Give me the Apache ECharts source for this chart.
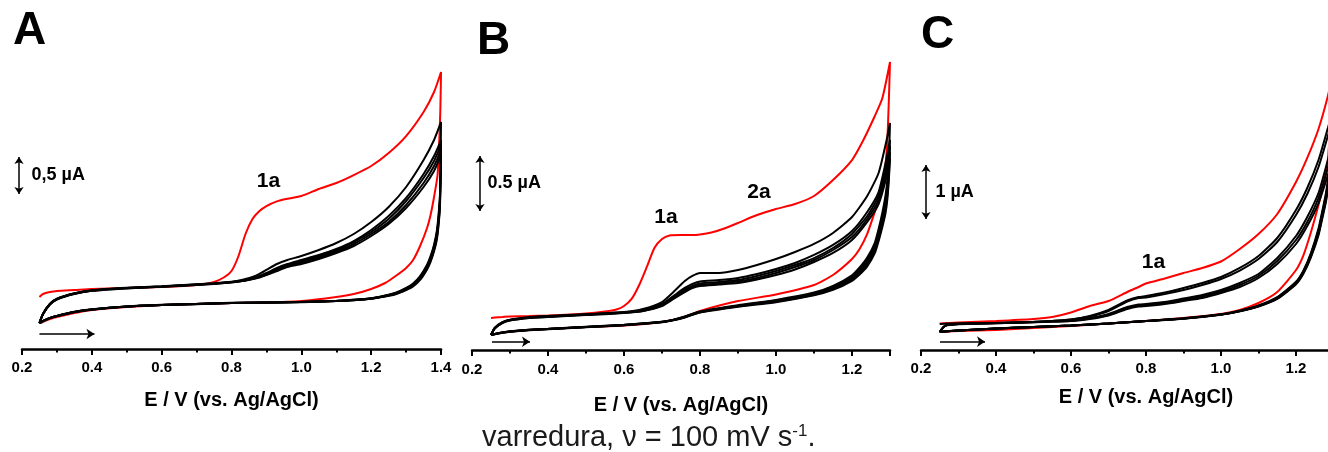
<!DOCTYPE html>
<html>
<head>
<meta charset="utf-8">
<script src="https://cdn.jsdelivr.net/npm/echarts@6/dist/echarts.min.js"></script>
<style>
  html, body { margin: 0; padding: 0; background: #fff; }
  #chart { width: 1328px; height: 452px; }
</style>
</head>
<body>
<div id="chart"></div>
<script>
// Cyclic voltammograms: potential E (V vs. Ag/AgCl) and current I (µA, offset).
// Red = first scan, black = following scans. Each loop runs forward then back.

// ---------- Panel A ----------
const aRedE = [0.25,0.26,0.28,0.30,0.35,0.40,0.50,0.60,0.70,0.75,0.78,0.80,0.82,0.84,0.86,0.88,0.90,0.93,0.96,1.00,1.05,1.10,1.15,1.20,1.25,1.30,1.35,1.38,1.40,
               1.398,1.395,1.39,1.38,1.37,1.36,1.34,1.32,1.30,1.27,1.24,1.20,1.15,1.10,1.00,0.90,0.80,0.70,0.60,0.50,0.40,0.35,0.30,0.28,0.26,0.25];
const aRedI = [0.703,0.743,0.770,0.784,0.797,0.811,0.824,0.838,0.865,0.905,0.973,1.054,1.257,1.554,1.757,1.865,1.932,1.995,2.030,2.068,2.162,2.243,2.351,2.473,2.649,2.878,3.203,3.473,3.743,
               3.230,2.824,2.351,2.054,1.811,1.635,1.392,1.203,1.095,0.986,0.892,0.811,0.743,0.703,0.649,0.628,0.622,0.608,0.595,0.568,0.527,0.486,0.432,0.405,0.365,0.351];
const aScanE = [0.25,0.26,0.28,0.30,0.35,0.40,0.50,0.60,0.70,0.75,0.80,0.84,0.86,0.88,0.90,0.93,0.96,1.00,1.05,1.10,1.15,1.20,1.25,1.30,1.35,1.38,1.40,
                1.397,1.393,1.388,1.38,1.37,1.36,1.34,1.32,1.30,1.27,1.24,1.20,1.15,1.10,1.00,0.90,0.80,0.70,0.60,0.50,0.40,0.35,0.30,0.28,0.26,0.25];
const aCycle2 = [0.351,0.473,0.608,0.676,0.750,0.791,0.824,0.845,0.872,0.885,0.905,0.946,0.973,1.014,1.068,1.149,1.203,1.257,1.338,1.432,1.554,1.716,1.919,2.189,2.554,2.824,3.068,
                 2.10,1.82,1.60,1.41,1.255,1.140,0.985,0.885,0.826,0.760,0.722,0.686,0.665,0.651,0.637,0.630,0.624,0.610,0.597,0.576,0.536,0.502,0.448,0.421,0.380,0.351];
const aCycle3 = [0.351,0.476,0.612,0.680,0.754,0.795,0.827,0.848,0.876,0.889,0.909,0.932,0.959,0.986,1.027,1.095,1.149,1.203,1.270,1.351,1.459,1.608,1.797,2.041,2.365,2.608,2.824,
                 2.06,1.78,1.57,1.39,1.235,1.124,0.972,0.875,0.818,0.755,0.719,0.684,0.664,0.650,0.636,0.629,0.623,0.609,0.596,0.575,0.535,0.501,0.447,0.420,0.379,0.351];
const aCycle4 = [0.351,0.473,0.608,0.676,0.750,0.791,0.824,0.845,0.872,0.885,0.905,0.930,0.953,0.980,1.014,1.081,1.135,1.189,1.257,1.338,1.446,1.581,1.757,2.000,2.311,2.541,2.757,
                 2.014,1.743,1.541,1.365,1.216,1.108,0.959,0.865,0.811,0.750,0.716,0.682,0.662,0.649,0.635,0.628,0.622,0.608,0.595,0.574,0.534,0.500,0.446,0.419,0.378,0.351];
const aCycle5 = [0.351,0.470,0.604,0.672,0.746,0.788,0.821,0.842,0.868,0.882,0.901,0.926,0.946,0.973,1.007,1.068,1.122,1.169,1.236,1.318,1.419,1.554,1.716,1.946,2.243,2.473,2.689,
                 1.97,1.71,1.51,1.34,1.197,1.092,0.946,0.855,0.803,0.745,0.713,0.680,0.660,0.648,0.634,0.627,0.621,0.607,0.594,0.573,0.533,0.499,0.445,0.418,0.377,0.351];
const aCycle6 = [0.351,0.468,0.601,0.669,0.743,0.786,0.819,0.840,0.866,0.880,0.899,0.926,0.946,0.966,1.000,1.054,1.108,1.149,1.216,1.297,1.392,1.527,1.689,1.905,2.189,2.405,2.622,
                 1.93,1.68,1.48,1.32,1.178,1.076,0.933,0.845,0.796,0.740,0.710,0.678,0.659,0.647,0.633,0.626,0.620,0.606,0.593,0.572,0.532,0.498,0.444,0.417,0.376,0.351];

// ---------- Panel B ----------
const bRedE = [0.25,0.26,0.28,0.30,0.35,0.40,0.50,0.55,0.58,0.60,0.62,0.64,0.66,0.68,0.70,0.72,0.75,0.78,0.80,0.83,0.86,0.90,0.95,1.00,1.05,1.10,1.15,1.20,1.23,1.26,1.28,1.30,
               1.297,1.293,1.288,1.28,1.27,1.26,1.24,1.22,1.20,1.15,1.10,1.00,0.90,0.80,0.75,0.70,0.60,0.50,0.40,0.35,0.30,0.28,0.26,0.25];
const bRedI = [0.291,0.295,0.300,0.305,0.309,0.314,0.332,0.350,0.368,0.400,0.464,0.591,0.755,0.927,1.009,1.041,1.045,1.045,1.050,1.068,1.100,1.155,1.227,1.282,1.327,1.400,1.545,1.727,1.909,2.127,2.291,2.618,
               2.273,1.909,1.682,1.500,1.364,1.255,1.055,0.918,0.827,0.682,0.591,0.505,0.445,0.355,0.291,0.255,0.223,0.209,0.191,0.182,0.168,0.159,0.145,0.136];
const bScanE = [0.25,0.26,0.28,0.30,0.35,0.40,0.50,0.60,0.65,0.70,0.73,0.76,0.78,0.80,0.85,0.90,0.95,1.00,1.05,1.10,1.15,1.20,1.24,1.27,1.29,1.30,
                1.297,1.293,1.288,1.28,1.27,1.26,1.24,1.22,1.20,1.15,1.10,1.00,0.90,0.80,0.76,0.73,0.70,0.60,0.50,0.40,0.35,0.30,0.28,0.26,0.25];
const bCycle2 = [0.136,0.200,0.250,0.273,0.295,0.305,0.323,0.345,0.373,0.436,0.527,0.627,0.673,0.700,0.700,0.727,0.773,0.827,0.891,0.964,1.064,1.209,1.400,1.609,1.891,2.064,
                 1.73,1.54,1.40,1.25,1.10,0.975,0.84,0.75,0.68,0.582,0.522,0.455,0.407,0.350,0.304,0.276,0.257,0.229,0.211,0.193,0.184,0.170,0.160,0.146,0.136];
const bCycle3 = [0.136,0.203,0.253,0.276,0.298,0.308,0.326,0.343,0.364,0.418,0.491,0.564,0.600,0.623,0.636,0.655,0.691,0.736,0.791,0.864,0.955,1.082,1.255,1.436,1.727,1.909,
                 1.68,1.50,1.36,1.215,1.072,0.951,0.82,0.734,0.668,0.573,0.515,0.450,0.403,0.347,0.302,0.274,0.256,0.228,0.210,0.192,0.183,0.169,0.160,0.145,0.136];
const bCycle4 = [0.136,0.200,0.250,0.273,0.295,0.305,0.323,0.341,0.359,0.409,0.482,0.550,0.582,0.605,0.618,0.636,0.673,0.718,0.773,0.836,0.927,1.055,1.218,1.400,1.673,1.855,
                 1.636,1.455,1.318,1.182,1.045,0.927,0.800,0.718,0.655,0.564,0.509,0.445,0.400,0.345,0.300,0.273,0.255,0.227,0.209,0.191,0.182,0.168,0.159,0.145,0.136];
const bCycle5 = [0.136,0.197,0.247,0.270,0.292,0.302,0.320,0.339,0.355,0.405,0.473,0.536,0.573,0.591,0.605,0.623,0.655,0.700,0.755,0.818,0.909,1.027,1.191,1.364,1.618,1.800,
                 1.59,1.41,1.28,1.15,1.018,0.903,0.78,0.702,0.642,0.555,0.503,0.440,0.397,0.343,0.298,0.272,0.254,0.226,0.208,0.190,0.181,0.167,0.158,0.144,0.136];
const bCycle6 = [0.136,0.195,0.245,0.268,0.290,0.300,0.318,0.337,0.355,0.400,0.464,0.527,0.564,0.582,0.595,0.609,0.641,0.682,0.732,0.800,0.882,1.000,1.164,1.327,1.564,1.745,
                 1.55,1.37,1.24,1.12,0.99,0.88,0.76,0.686,0.629,0.546,0.497,0.435,0.393,0.340,0.296,0.271,0.253,0.225,0.207,0.189,0.180,0.166,0.157,0.143,0.136];

// ---------- Panel C ----------
const cRedE = [0.25,0.30,0.40,0.50,0.55,0.60,0.65,0.70,0.75,0.78,0.80,0.85,0.90,0.95,1.00,1.05,1.10,1.15,1.20,1.23,1.26,1.285,1.30,
               1.295,1.29,1.285,1.28,1.27,1.26,1.24,1.22,1.20,1.15,1.10,1.05,1.00,0.90,0.80,0.70,0.60,0.50,0.40,0.30,0.25];
const cRedI = [0.491,0.509,0.537,0.574,0.611,0.694,0.815,0.907,1.074,1.167,1.231,1.324,1.426,1.519,1.639,1.870,2.148,2.519,3.111,3.556,4.093,4.704,5.185,
               4.444,3.981,3.519,3.296,2.963,2.685,2.185,1.759,1.481,1.074,0.870,0.741,0.667,0.593,0.537,0.491,0.444,0.407,0.370,0.352,0.333];
const cScanE = [0.25,0.26,0.27,0.30,0.40,0.50,0.55,0.60,0.65,0.70,0.75,0.78,0.80,0.85,0.90,0.95,1.00,1.05,1.10,1.15,1.20,1.23,1.26,1.285,1.30,
                1.297,1.293,1.29,1.285,1.28,1.27,1.26,1.24,1.22,1.20,1.15,1.10,1.05,1.00,0.90,0.80,0.70,0.60,0.50,0.40,0.30,0.26,0.25];
const cCycle2 = [0.481,0.485,0.489,0.494,0.502,0.521,0.539,0.565,0.630,0.741,0.917,0.981,1.000,1.065,1.148,1.241,1.352,1.519,1.741,2.074,2.593,3.000,3.519,4.111,4.481,
                 3.90,3.60,3.40,3.14,2.91,2.57,2.25,1.80,1.475,1.265,0.980,0.825,0.728,0.660,0.586,0.539,0.493,0.456,0.428,0.400,0.362,0.344,0.333];
const cCycle3 = [0.333,0.426,0.463,0.481,0.500,0.519,0.537,0.565,0.620,0.722,0.898,0.963,0.972,1.037,1.111,1.204,1.315,1.472,1.685,2.000,2.500,2.889,3.389,3.963,4.315,
                 3.80,3.54,3.35,3.10,2.87,2.535,2.215,1.78,1.46,1.253,0.972,0.820,0.725,0.658,0.585,0.538,0.492,0.455,0.427,0.399,0.361,0.343,0.333];
const cCycle4 = [0.333,0.426,0.463,0.481,0.498,0.517,0.528,0.546,0.593,0.667,0.796,0.843,0.852,0.889,0.954,1.019,1.111,1.241,1.407,1.704,2.111,2.463,2.907,3.519,3.889,
                 3.704,3.481,3.296,3.056,2.833,2.500,2.185,1.759,1.444,1.241,0.963,0.815,0.722,0.657,0.583,0.537,0.491,0.454,0.426,0.398,0.361,0.343,0.333];
const cCycle5 = [0.333,0.424,0.461,0.480,0.497,0.516,0.527,0.537,0.583,0.648,0.778,0.824,0.833,0.870,0.926,0.991,1.083,1.204,1.370,1.648,2.037,2.370,2.815,3.370,3.741,
                 3.62,3.42,3.24,3.01,2.79,2.465,2.155,1.74,1.43,1.229,0.955,0.810,0.719,0.655,0.581,0.536,0.490,0.453,0.425,0.397,0.360,0.342,0.333];
const cCycle6 = [0.333,0.422,0.459,0.478,0.496,0.515,0.526,0.537,0.574,0.639,0.759,0.806,0.815,0.852,0.907,0.963,1.056,1.167,1.333,1.593,1.963,2.296,2.722,3.241,3.593,
                 3.54,3.36,3.19,2.97,2.75,2.43,2.125,1.72,1.415,1.217,0.947,0.805,0.716,0.653,0.579,0.535,0.489,0.452,0.424,0.396,0.359,0.341,0.333];

// Annotations (potential, current) and scale bars / scan-direction arrows.
const xTitle = 'E / V (vs. Ag/AgCl)';
const panelLetters = ['A', 'B', 'C'];
const peakTags = [
  { grid: 0, E: 0.906, I: 2.264, text: '1a' },
  { grid: 1, E: 0.7105, I: 1.205, text: '1a' },
  { grid: 1, E: 0.9553, I: 1.432, text: '2a' },
  { grid: 2, E: 0.820, I: 1.620, text: '1a' }
];
const scaleBars = [
  { grid: 0, E: 0.1914, I0: 2.095, I1: 2.595, textE: 0.2258, text: '0,5 \u00b5A' },
  { grid: 1, E: 0.221, I0: 1.264, I1: 1.764, textE: 0.2395, text: '0.5 \u00b5A' },
  { grid: 2, E: 0.2133, I0: 2.426, I1: 3.426, textE: 0.2373, text: '1 \u00b5A' }
];
const scanArrows = [
  { grid: 0, E0: 0.25, E1: 0.4075, I: 0.203 },
  { grid: 1, E0: 0.2526, E1: 0.3526, I: 0.075 },
  { grid: 2, E0: 0.2507, E1: 0.3707, I: 0.154 }
];

const FONT = '"Liberation Sans", Arial, Helvetica, sans-serif';
const zip = (E, I) => E.map((e, k) => [e, I[k]]);

const panels = [
  { redE: aRedE, redI: aRedI, scanE: aScanE, cycles: [aCycle2, aCycle3, aCycle4, aCycle5, aCycle6],
    grid: { left: 22, top: 53, width: 419.04, height: 296 }, xMax: 1.4, yMax: 4, labelMargin: 11, nameGap: 41 },
  { redE: bRedE, redI: bRedI, scanE: bScanE, cycles: [bCycle2, bCycle3, bCycle4, bCycle5, bCycle6],
    grid: { left: 472, top: 20, width: 418, height: 330 }, xMax: 1.3, yMax: 3, labelMargin: 12, nameGap: 45 },
  { redE: cRedE, redI: cRedI, scanE: cScanE, cycles: [cCycle2, cCycle3, cCycle4, cCycle5, cCycle6],
    grid: { left: 921, top: 26, width: 450, height: 324 }, xMax: 1.4, yMax: 6, labelMargin: 11, nameGap: 37 }
];

const grids = [], xAxes = [], yAxes = [], series = [];

panels.forEach((p, gi) => {
  grids.push(Object.assign({ containLabel: false, outerBoundsMode: 'none' }, p.grid));
  xAxes.push({
    type: 'value', gridIndex: gi, min: 0.2, max: p.xMax, interval: 0.2,
    name: xTitle, nameLocation: 'middle', nameGap: p.nameGap,
    nameTextStyle: { fontFamily: FONT, fontSize: 20, fontWeight: 'bold', color: '#000' },
    axisLine: { show: true, onZero: false, lineStyle: { color: '#000', width: 2.5 } },
    axisTick: { show: true, length: 6, lineStyle: { color: '#000', width: 2 } },
    minorTick: { show: true, splitNumber: 2, length: 3.5, lineStyle: { color: '#000', width: 2 } },
    splitLine: { show: false }, minorSplitLine: { show: false },
    axisLabel: {
      fontFamily: FONT, fontSize: 15, fontWeight: 'bold', color: '#000', margin: p.labelMargin,
      formatter: v => (Math.round(v * 10) % 2 === 0 ? v.toFixed(1) : '')
    }
  });
  yAxes.push({ type: 'value', gridIndex: gi, min: 0, max: p.yMax, show: false });

  series.push({
    type: 'line', xAxisIndex: gi, yAxisIndex: gi, data: zip(p.redE, p.redI),
    showSymbol: false, smooth: 0.2, clip: false, silent: true,
    lineStyle: { color: '#ff0000', width: 2 }, z: 2
  });
  p.cycles.forEach(I => {
    series.push({
      type: 'line', xAxisIndex: gi, yAxisIndex: gi, data: zip(p.scanE, I),
      showSymbol: false, smooth: 0.2, clip: false, silent: true,
      lineStyle: { color: '#000', width: 2 }, z: 3
    });
  });
});

// text anchored at a data point, drawn with a fully opaque label
function tagSeries(gi, point, text, position, size) {
  return {
    type: 'scatter', xAxisIndex: gi, yAxisIndex: gi, clip: false, silent: true,
    symbolSize: 1, itemStyle: { color: 'rgba(0,0,0,0)', opacity: 1 },
    data: [point], z: 5,
    label: { show: true, position: position, distance: 0, formatter: text, opacity: 1,
      fontFamily: FONT, fontSize: size, fontWeight: 'bold', color: '#000' }
  };
}

// scale bars (double arrows) and scan direction arrows
scaleBars.forEach(s => {
  series.push({
    type: 'lines', coordinateSystem: 'cartesian2d', xAxisIndex: s.grid, yAxisIndex: s.grid,
    clip: false, silent: true, symbol: ['arrow', 'arrow'], symbolSize: 7,
    lineStyle: { color: '#000', width: 1.5, opacity: 1 },
    data: [{ coords: [[s.E, s.I0], [s.E, s.I1]] }], z: 5
  });
  series.push(tagSeries(s.grid, [s.textE, (s.I0 + s.I1) / 2], s.text, 'right', 18));
});
scanArrows.forEach(a => {
  series.push({
    type: 'lines', coordinateSystem: 'cartesian2d', xAxisIndex: a.grid, yAxisIndex: a.grid,
    clip: false, silent: true, symbol: ['none', 'arrow'], symbolSize: 8,
    lineStyle: { color: '#000', width: 1.5, opacity: 1 },
    data: [{ coords: [[a.E0, a.I], [a.E1, a.I]] }], z: 5
  });
});
peakTags.forEach(t => {
  series.push(tagSeries(t.grid, [t.E, t.I], t.text, 'inside', 21));
});

const chart = echarts.init(document.getElementById('chart'), null, { renderer: 'canvas' });
chart.setOption({
  animation: false,
  backgroundColor: '#fff',
  grid: grids, xAxis: xAxes, yAxis: yAxes, series: series,
  graphic: [
    { type: 'text', x: 13, y: 31.5, style: { text: panelLetters[0], font: 'bold 46px ' + FONT, fill: '#000', verticalAlign: 'middle' } },
    { type: 'text', x: 477, y: 41.5, style: { text: panelLetters[1], font: 'bold 46px ' + FONT, fill: '#000', verticalAlign: 'middle' } },
    { type: 'text', x: 921, y: 35, style: { text: panelLetters[2], font: 'bold 46px ' + FONT, fill: '#000', verticalAlign: 'middle' } },
    { type: 'text', x: 482, y: 438,
      style: {
        text: '{a|varredura, \u03bd = 100 mV s}{s|-1}{a|.}',
        verticalAlign: 'middle',
        rich: {
          a: { fontFamily: FONT, fontSize: 29, fill: '#1a1a1a', lineHeight: 30 },
          s: { fontFamily: FONT, fontSize: 17, fill: '#1a1a1a', lineHeight: 30, verticalAlign: 'top' }
        }
      } }
  ]
});
</script>
</body>
</html>
